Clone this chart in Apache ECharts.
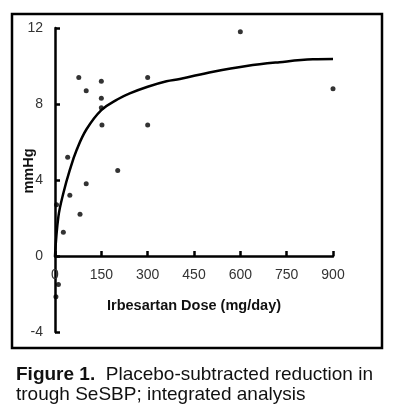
<!DOCTYPE html>
<html>
<head>
<meta charset="utf-8">
<script src="https://cdn.jsdelivr.net/npm/echarts@6/dist/echarts.min.js"></script>
<style>
html,body{margin:0;padding:0;background:#fff;}
#chart{width:400px;height:410px;}
</style>
</head>
<body>
<div id="chart"></div>
<script>
// Observed data points (dose mg/day, reduction mmHg)
var pointDose  = [77, 101, 150, 150, 150, 152, 300, 300, 203, 41, 101, 48, 81, 27, 5, 11, 3, 600, 900];
var pointValue = [9.4, 8.7, 9.2, 8.3, 7.8, 6.9, 9.4, 6.9, 4.5, 5.2, 3.8, 3.2, 2.2, 1.25, 2.7, -1.5, -2.15, 11.8, 8.8];
// Fitted curve
var curveDose  = [0, 11, 27, 48, 70, 102, 150, 203, 242, 300, 361, 404, 512, 620, 727, 835, 900];
var curveValue = [0, 2.07, 3.3, 4.53, 5.58, 6.67, 7.68, 8.25, 8.56, 8.91, 9.2, 9.32, 9.7, 10.0, 10.2, 10.35, 10.37];
// Axis ticks
var xTicks = [0, 150, 300, 450, 600, 750, 900];
var yTicks = [-4, 0, 4, 8, 12];

var chart = echarts.init(document.getElementById('chart'), null, {renderer: 'canvas'});
var font = 'Liberation Sans, Arial, sans-serif';
var option = {
  animation: false,
  backgroundColor: '#fff',
  grid: {left: 55, top: 28, right: 67, bottom: 78, containLabel: false},
  xAxis: {
    type: 'value',
    position: 'bottom',
    offset: -76,
    min: xTicks[0], max: xTicks[xTicks.length - 1], interval: 150,
    name: 'Irbesartan Dose (mg/day)',
    nameLocation: 'middle', nameGap: 42, nameMoveOverlap: false,
    nameTextStyle: {fontFamily: font, fontWeight: 'bold', fontSize: 14.5, color: '#111'},
    axisLine: {onZero: false, lineStyle: {color: '#000', width: 2.5}},
    axisTick: {inside: true, length: 5, lineStyle: {color: '#000', width: 2.5}},
    axisLabel: {fontFamily: font, fontSize: 14, color: '#333', margin: 12},
    splitLine: {show: false}
  },
  yAxis: {
    type: 'value',
    min: yTicks[0], max: yTicks[yTicks.length - 1], interval: 4,
    name: 'mmHg',
    nameLocation: 'middle', nameGap: 19, nameMoveOverlap: false,
    nameTextStyle: {fontFamily: font, fontWeight: 'bold', fontSize: 14.5, color: '#111', padding: [0, 0, 0, 18]},
    axisLine: {show: true, onZero: false, lineStyle: {color: '#000', width: 2.5}},
    axisTick: {show: true, inside: true, length: 5, lineStyle: {color: '#000', width: 2.5}},
    axisLabel: {fontFamily: font, fontSize: 14, color: '#333', margin: 12},
    splitLine: {show: false}
  },
  series: [
    {
      type: 'line',
      data: curveDose.map(function (d, i) { return [d, curveValue[i]]; }),
      smooth: 0.4,
      symbol: 'none',
      lineStyle: {color: '#000', width: 2.5}
    },
    {
      type: 'scatter',
      data: pointDose.map(function (d, i) { return [d, pointValue[i]]; }),
      symbol: 'circle',
      symbolSize: 5,
      itemStyle: {color: '#000'}
    }
  ],
  graphic: [
    {
      type: 'rect',
      shape: {x: 12, y: 14, width: 370, height: 334},
      style: {fill: 'none', stroke: '#000', lineWidth: 2.5},
      silent: true
    },
    {
      type: 'text', left: 16, top: 365,
      style: {
        text: '{b|Figure 1.}  Placebo-subtracted reduction in\ntrough SeSBP; integrated analysis',
        font: '19px ' + font,
        fill: '#111',
        lineHeight: 20,
        rich: {b: {fontWeight: 'bold', fontSize: 19, fontFamily: font, fill: '#111', lineHeight: 20}}
      }
    }
  ]
};
chart.setOption(option);
</script>
</body>
</html>
